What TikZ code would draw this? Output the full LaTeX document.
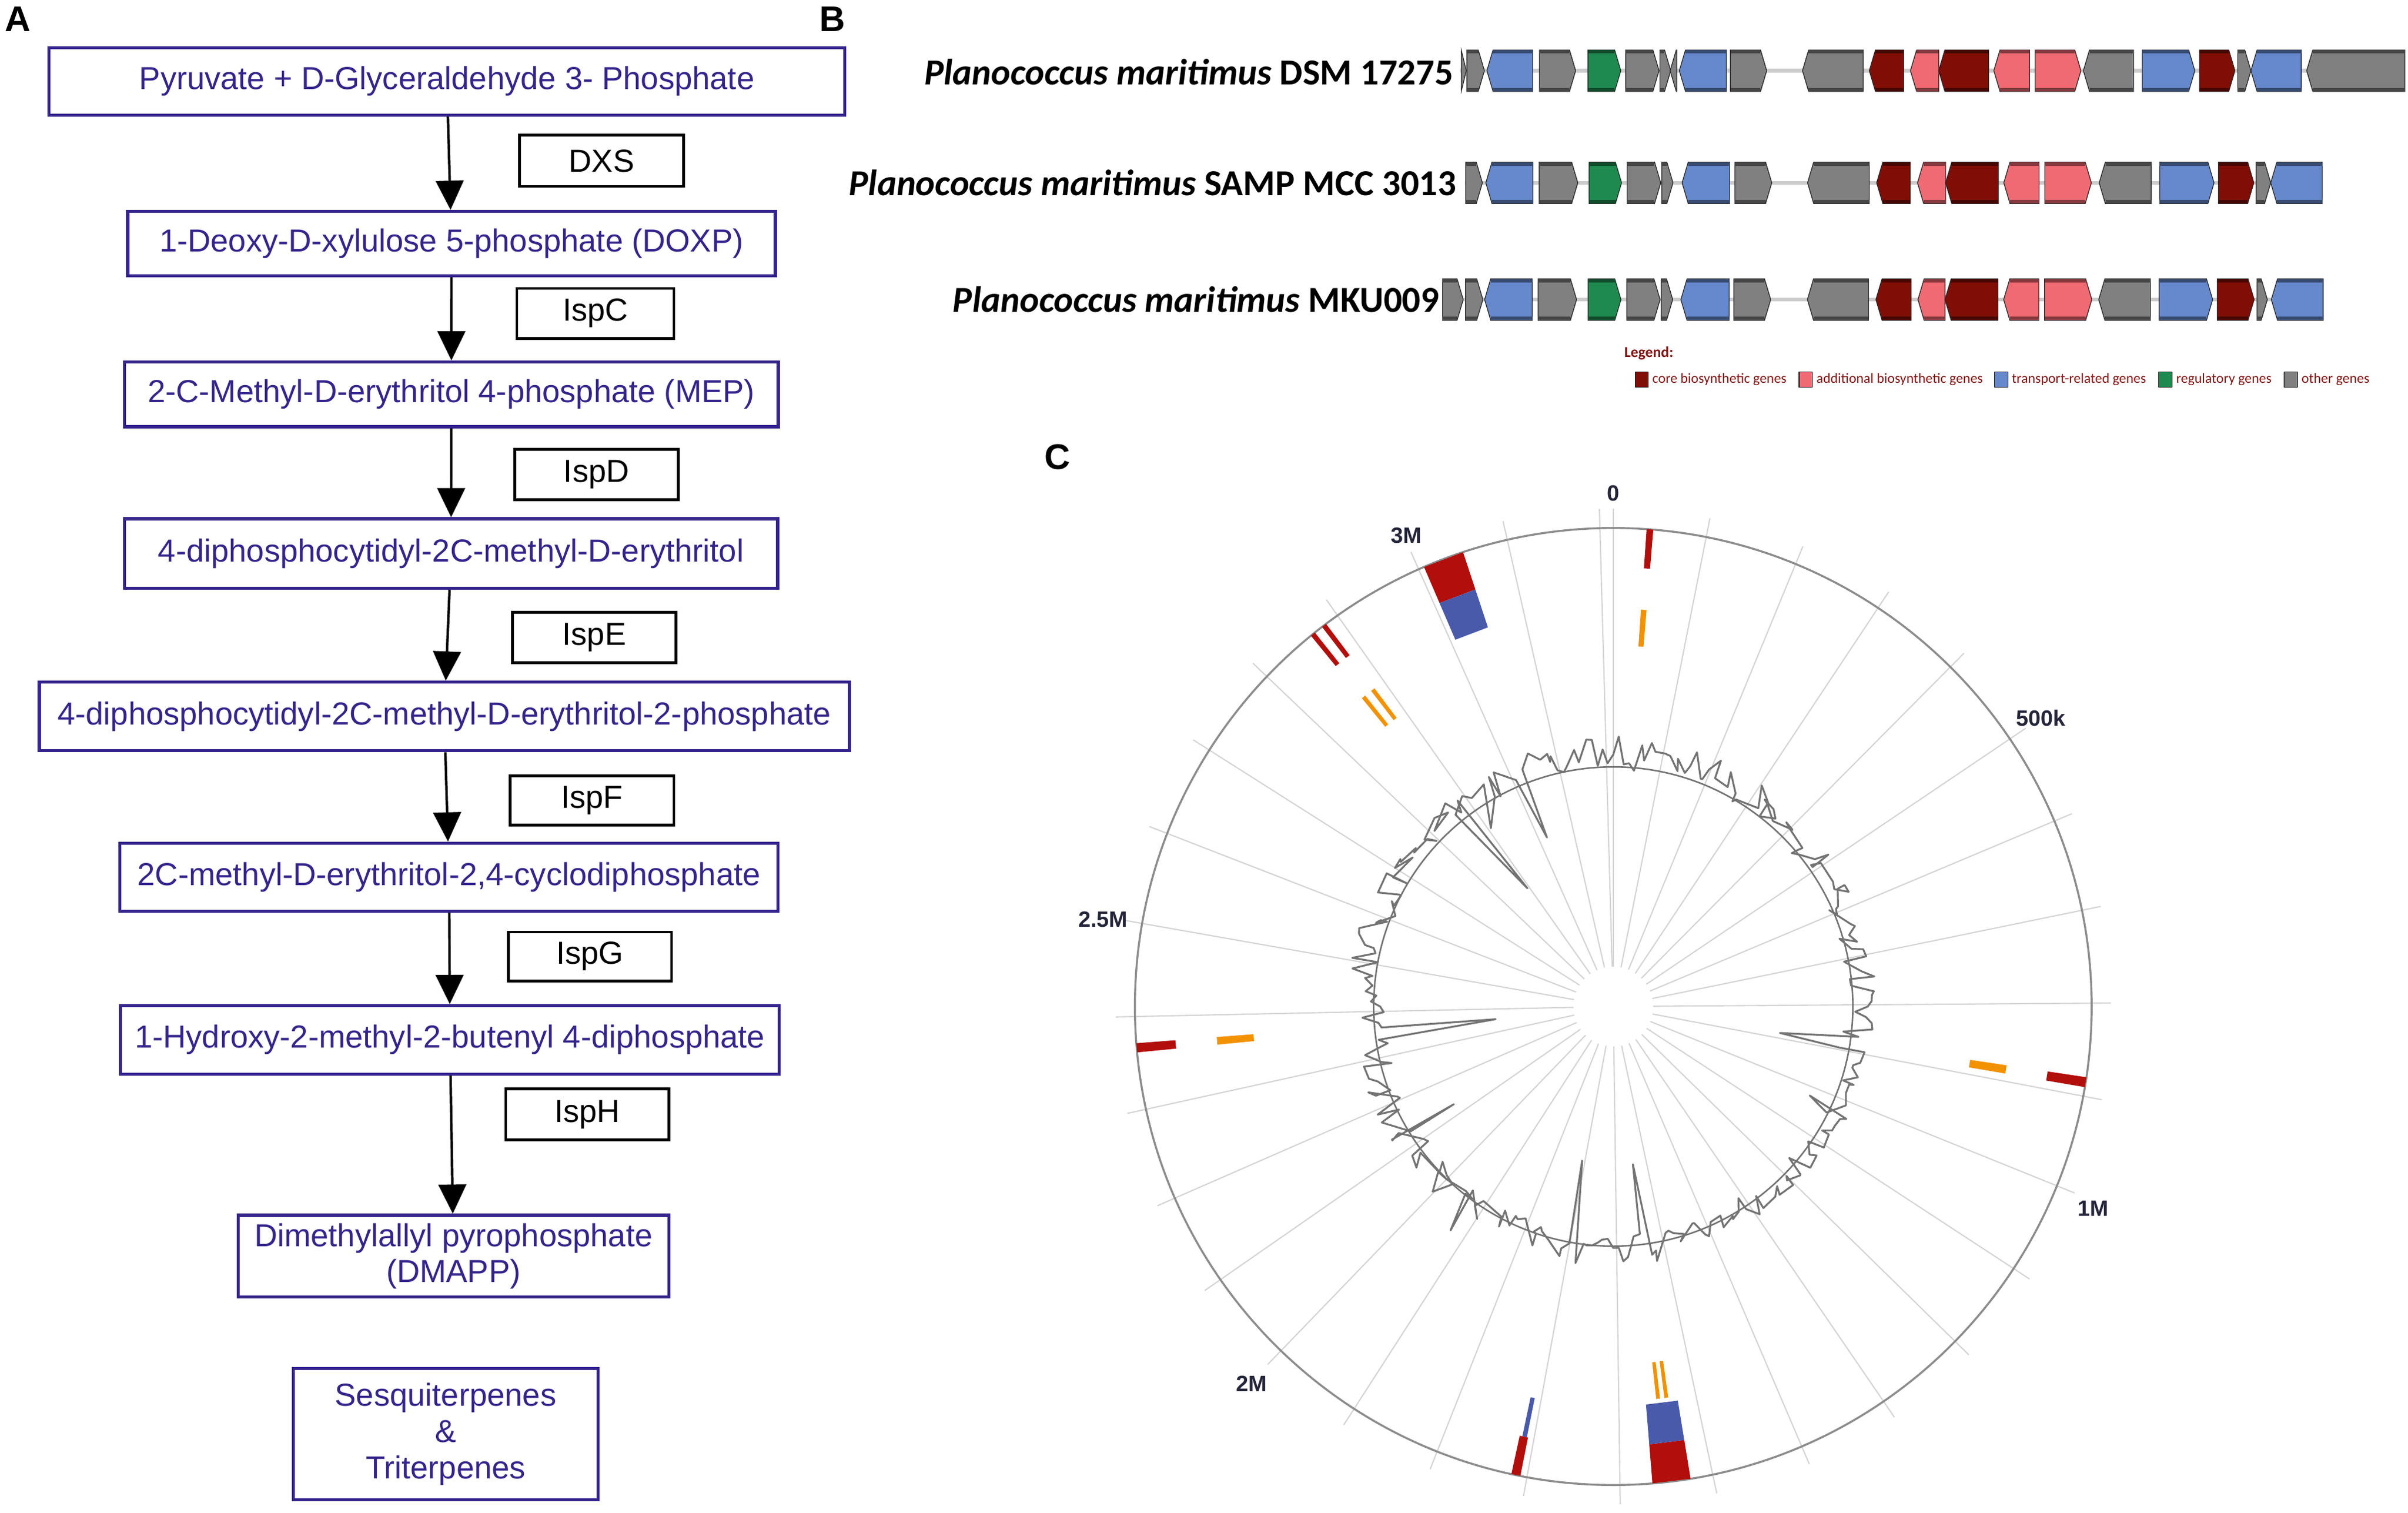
\documentclass[tikz,border=0pt]{standalone}
\usepackage{fontspec}
\setmainfont{Liberation Sans}
\newfontfamily\carlito{Carlito}
\usepackage{tikz}
\usetikzlibrary{arrows.meta}

\definecolor{indigo}{RGB}{52,36,140}
\definecolor{cbred}{RGB}{128,14,6}
\definecolor{abpink}{RGB}{240,106,115}
\definecolor{trblue}{RGB}{102,136,204}
\definecolor{rggreen}{RGB}{31,138,80}
\definecolor{otgray}{RGB}{128,128,128}
\definecolor{legred}{RGB}{130,20,20}
\definecolor{bgcred}{RGB}{178,14,12}
\definecolor{bgcblue}{RGB}{74,90,170}
\definecolor{bgcorange}{RGB}{243,146,0}
\definecolor{ticktext}{RGB}{36,36,58}

\tikzset{
    metab/.style={draw=indigo, line width=0.2mm, text=indigo, inner sep=0pt, align=center,
        font=\fontsize{5.9}{6.6}\selectfont},
    enzyme/.style={draw=black, line width=0.18mm, inner sep=0pt, font=\fontsize{5.9}{6.6}\selectfont},
    flow/.style={-{Triangle[width=1.8mm,length=1.9mm]}, line width=0.16mm},
    panel/.style={inner sep=0pt, font=\bfseries\fontsize{6.6}{7}\selectfont},
    strain/.style={inner sep=0pt, anchor=east, font={\carlito\bfseries\fontsize{6.78}{8}\selectfont}},
    backbone/.style={draw=black!20, line width=0.25mm},
    gene/.style={draw=black!85, line width=0.05mm},
    geneband/.style={line width=0.22mm},
    legtitle/.style={inner sep=0pt, anchor=west, text=legred, font={\carlito\bfseries\fontsize{2.8}{3}\selectfont}},
    legtext/.style={inner sep=0pt, anchor=west, text=legred, font={\carlito\fontsize{2.6}{3}\selectfont}},
    legbox/.style={draw=black, line width=0.04mm},
    spoke/.style={draw=black!17, line width=0.08mm},
    ring/.style={draw=black!45, line width=0.13mm},
    basecircle/.style={draw=black!55, line width=0.1mm},
    gcline/.style={draw=black!55, line width=0.12mm, line join=round},
    tick/.style={inner sep=0pt, text=ticktext, font=\bfseries\fontsize{4.1}{5}\selectfont}
}

\newcommand{\gene}[4]{%
    \pgfmathsetmacro\gtip{#2-min(4,abs(#2-#1))*sign(#2-#1)}
    \filldraw[gene, fill=#3] (#1,#4-13.5) -- (\gtip,#4-13.5) -- (#2,#4) -- (\gtip,#4+13.5) -- (#1,#4+13.5) -- cycle;
    \draw[geneband, draw=#3!55!black] (#1,#4-12.3) -- (\gtip,#4-12.3) (#1,#4+12.3) -- (\gtip,#4+12.3);
}

\begin{document}
\begin{tikzpicture}[x=0.1mm, y=-0.1mm]
        \fill[white] (0,0) rectangle (1568,984.9);
        \useasboundingbox (0,0) rectangle (1568,984.9);

        \node[panel] (labA) at (11.5,12.5) {A};
        \node[panel] (labB) at (542,12.5) {B};
        \node[panel] (labC) at (688.5,297.5) {C};

        \node[metab, minimum width=51.83mm, minimum height=4.4mm] (pyr) at (291,53) {Pyruvate + D-Glyceraldehyde 3- Phosphate};
        \node[metab, minimum width=42.17mm, minimum height=4.18mm] (doxp) at (294,158.5) {1-Deoxy-D-xylulose 5-phosphate (DOXP)};
        \node[metab, minimum width=42.57mm, minimum height=4.22mm] (mep) at (293.9,256.7) {2-C-Methyl-D-erythritol 4-phosphate (MEP)};
        \node[metab, minimum width=42.53mm, minimum height=4.52mm] (cdpme) at (293.7,360.3) {4-diphosphocytidyl-2C-methyl-D-erythritol};
        \node[metab, minimum width=52.74mm, minimum height=4.47mm] (cdpmep) at (289.3,466.4) {4-diphosphocytidyl-2C-methyl-D-erythritol-2-phosphate};
        \node[metab, minimum width=42.86mm, minimum height=4.44mm] (mecpp) at (292.4,571) {2C-methyl-D-erythritol-2,4-cyclodiphosphate};
        \node[metab, minimum width=42.89mm, minimum height=4.46mm] (hmbpp) at (293,676.9) {1-Hydroxy-2-methyl-2-butenyl 4-diphosphate};
        \node[metab, minimum width=28.04mm, minimum height=5.33mm] (dmapp) at (295.3,817.7) {Dimethylallyl pyrophosphate\\(DMAPP)};
        \node[metab, minimum width=19.86mm, minimum height=8.55mm, font=\fontsize{5.9}{6.7}\selectfont] (terp) at (290.2,933.5) {Sesquiterpenes\\\&\\Triterpenes};

        \node[enzyme, minimum width=10.66mm, minimum height=3.33mm] (dxs) at (391.7,104.7) {DXS};
        \node[enzyme, minimum width=10.22mm, minimum height=3.26mm] (ispc) at (387.7,204) {IspC};
        \node[enzyme, minimum width=10.66mm, minimum height=3.3mm] (ispd) at (388.4,308.9) {IspD};
        \node[enzyme, minimum width=10.66mm, minimum height=3.27mm] (ispe) at (386.9,415) {IspE};
        \node[enzyme, minimum width=10.66mm, minimum height=3.22mm] (ispf) at (385.5,521.1) {IspF};
        \node[enzyme, minimum width=10.62mm, minimum height=3.18mm] (ispg) at (384.2,622.6) {IspG};
        \node[enzyme, minimum width=10.62mm, minimum height=3.32mm] (isph) at (382.4,725.4) {IspH};

        \draw[flow] (pyr) -- (doxp);
        \draw[flow] (doxp) -- (mep);
        \draw[flow] (mep) -- (cdpme);
        \draw[flow] (cdpme) -- (cdpmep);
        \draw[flow] (cdpmep) -- (mecpp);
        \draw[flow] (mecpp) -- (hmbpp);
        \draw[flow] (hmbpp) -- (dmapp);

        \node[strain] (dsm) at (947,47) {\itshape Planococcus maritimus \upshape DSM 17275};
        \node[strain] (samp) at (949,119) {\itshape Planococcus maritimus \upshape SAMP MCC 3013};
        \node[strain] (mku) at (938,195) {\itshape Planococcus maritimus \upshape MKU009};

        \draw[backbone] (951,46) -- (1566,46);
        \foreach \b/\t/\c in {951.5/954.8/otgray, 955.2/966.6/otgray, 998.1/968.2/trblue, 1002.5/1026/otgray,
            1034/1055.4/rggreen, 1058.6/1080.3/otgray, 1080.9/1087.9/otgray, 1091.9/1087.5/otgray,
            1124.2/1093.5/trblue, 1126.8/1150.4/otgray, 1213.2/1173.7/otgray, 1239.6/1217.2/cbred,
            1262.4/1244/abpink, 1294.9/1262.4/cbred, 1321.6/1298.3/abpink, 1325.2/1355/abpink,
            1389.3/1356.6/otgray, 1394.9/1429.2/trblue, 1432.2/1455.3/cbred, 1457.1/1465.7/otgray,
            1498.5/1465.7/trblue, 1566/1502/otgray}
            \gene{\b}{\t}{\c}{46};

        \draw[backbone] (954,119) -- (1512,119);
        \foreach \b/\t/\c in {954.4/965.3/otgray, 998.2/967.5/trblue, 1002.2/1027.4/otgray, 1034.7/1055.9/rggreen,
            1059.5/1081.4/otgray, 1082.1/1089.4/otgray, 1126.3/1095.3/trblue, 1129.6/1153.7/otgray,
            1217.2/1177/otgray, 1243.9/1222/cbred, 1266.9/1248.6/abpink, 1301.2/1266.9/cbred,
            1327.8/1304.8/abpink, 1331.5/1361.8/abpink, 1400.8/1366.9/otgray, 1406.3/1441.7/trblue,
            1444.6/1467.6/cbred, 1469.1/1478.6/otgray, 1512.2/1478.6/trblue}
            \gene{\b}{\t}{\c}{119};

        \draw[backbone] (939,195) -- (1512,195);
        \foreach \b/\t/\c in {939.3/952.8/otgray, 954.3/965.6/otgray, 997.8/966.7/trblue, 1001.5/1026.6/otgray,
            1034.1/1055.5/rggreen, 1059.3/1081/otgray, 1081.7/1089.2/otgray, 1126/1094.5/trblue,
            1129/1153/otgray, 1216.7/1176.9/otgray, 1244.4/1221.5/cbred, 1266.5/1248.9/abpink,
            1301/1266.5/cbred, 1327.6/1304.7/abpink, 1331.3/1362.1/abpink, 1400.3/1366.6/otgray,
            1405.9/1440.8/trblue, 1443.8/1467.8/cbred, 1469.6/1476.4/otgray, 1512.7/1479/trblue}
            \gene{\b}{\t}{\c}{195};

        \node[legtitle] (legend) at (1057,230) {Legend:};
        \foreach \x/\c/\txt [count=\k] in {1064.7/cbred/core biosynthetic genes, 1171.5/abpink/additional biosynthetic genes,
            1298.8/trblue/transport-related genes, 1405.8/rggreen/regulatory genes, 1487.4/otgray/other genes} {
            \filldraw[legbox, fill=\c] (\x,242) rectangle +(8.6,10);
            \node[legtext] (leg\k) at (\x+10.6,247) {\txt};
        }

        \begin{scope}[shift={(1050.5,655.2)}, x=1mm, y=1mm]
            \foreach \k in {0,...,32}
                \draw[spoke] ({90-11.2*\k}:2.6) -- ({90-11.2*\k}:32.4);
            \draw[ring] (0,0) circle[radius=31.15mm];
            \draw[basecircle] (0,0) circle[radius=15.6mm];

            \pgfmathsetseed{2581}
            \draw[gcline] (90:16.4) \foreach \i in {1,...,287} {
                -- ({90-1.25*\i}:{16.1+0.4*cos(1.25*\i)+1.2*rand-7.1*(\i==258)-4*(\i==271)-7.9*(\i==211)
                    -5.9*(\i==79)-6.4*(\i==138)-4.4*(\i==152)-3*(\i==192)-1.7*(\i==263)-1.7*(\i==92)+1.3*(\i==173)})
            } -- cycle;

            \foreach \a/\b/\ri/\ro/\c in {4.0/4.8/28.6/31.15/bgcred, 336.7/341.7/28.6/31.15/bgcred,
                320.8/321.4/28.6/31.15/bgcred, 322.5/323.1/28.6/31.15/bgcred, 264.5/265.6/28.6/31.15/bgcred,
                98.5/99.7/28.6/31.15/bgcred, 191.2/192.3/28.6/31.15/bgcred, 170.7/175.3/28.6/31.15/bgcred,
                336.7/341.7/26/28.6/bgcblue, 191.35/191.95/26/28.6/bgcblue, 170.7/175.3/26/28.6/bgcblue,
                4.0/4.8/23.5/25.9/bgcorange, 320.8/321.4/23.5/25.9/bgcorange, 322.5/323.1/23.5/25.9/bgcorange,
                264.5/265.6/23.5/25.9/bgcorange, 98.5/99.7/23.5/25.9/bgcorange, 172.0/172.55/23.3/25.7/bgcorange,
                173.2/173.75/23.3/25.7/bgcorange}
                \fill[\c] ({90-\a}:\ri) -- ({90-\a}:\ro) -- ({90-\b}:\ro) -- ({90-\b}:\ri) -- cycle;

            \node[tick] (t0) at (90:33.4) {0};
            \node[tick] (t500k) at ({90-56}:33.6) {500k};
            \node[tick] (t1M) at ({90-112.8}:33.9) {1M};
            \node[tick] (t2M) at ({90-223.8}:34) {2M};
            \node[tick] (t25M) at ({90-279.7}:33.7) {2.5M};
            \node[tick] (t3M) at ({90-336.3}:33.5) {3M};
        \end{scope}
\end{tikzpicture}
\end{document}
